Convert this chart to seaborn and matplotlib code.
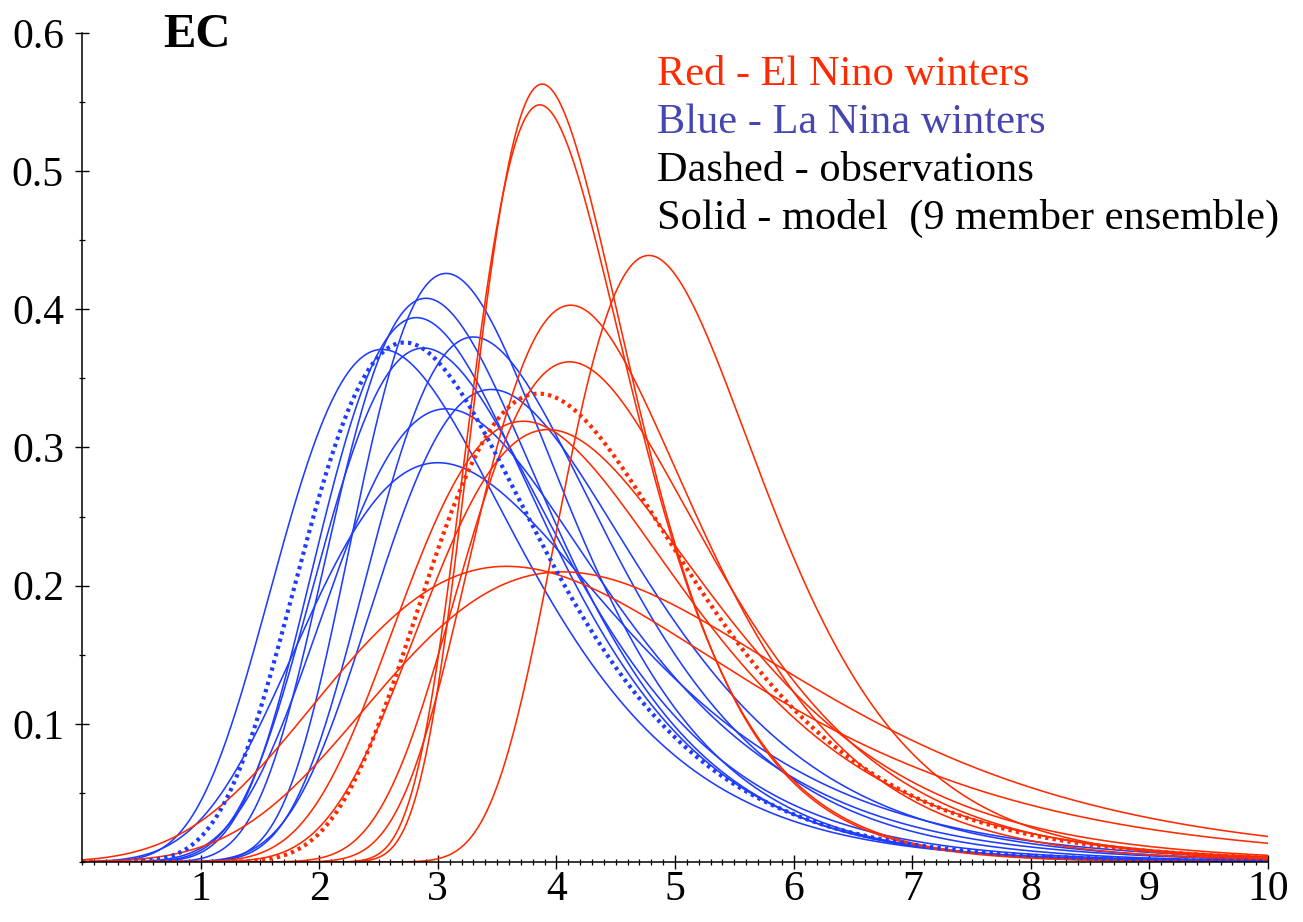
import numpy as np
import pandas as pd
import matplotlib
matplotlib.use("Agg")
import matplotlib.pyplot as plt
from matplotlib.ticker import MultipleLocator, FixedLocator
import seaborn as sns

# ---- data: fitted (Gumbel) curves, given as mode and peak density ----
red_model_modes = [3.88, 3.86, 4.78, 4.12, 4.11, 3.72, 3.93, 3.58, 4.05]
red_model_peaks = [0.563, 0.548, 0.439, 0.403, 0.362, 0.319, 0.313, 0.214, 0.210]
red_obs_mode = [3.85]
red_obs_peak = [0.339]

blue_model_modes = [3.07, 2.90, 2.82, 2.53, 3.30, 2.88, 3.45, 3.07, 3.00]
blue_model_peaks = [0.426, 0.408, 0.394, 0.371, 0.380, 0.372, 0.342, 0.328, 0.289]
blue_obs_mode = [2.72]
blue_obs_peak = [0.376]

x_ticks = [1, 2, 3, 4, 5, 6, 7, 8, 9, 10]
y_ticks = [0.1, 0.2, 0.3, 0.4, 0.5, 0.6]
legend_lines = ["Red - El Nino winters", "Blue - La Nina winters",
                "Dashed - observations", "Solid - model  (9 member ensemble)"]
title = "EC"

RED = "#FF2A00"
BLUE = "#1E3CFF"
BLUE_TXT = "#4646B0"

def gumbel_pdf(x, mode, peak):
    sigma = 1.0 / (np.e * peak)
    z = (x - mode) / sigma
    return np.exp(-z - np.exp(-z)) / sigma

xs = np.linspace(0, 10, 1201)
rows = []
def add(modes, peaks, group, kind):
    for i, (m, p) in enumerate(zip(modes, peaks)):
        rows.append(pd.DataFrame({"x": xs, "y": gumbel_pdf(xs, m, p),
                                  "curve": f"{group}-{kind}-{i}",
                                  "group": group, "kind": kind}))
add(blue_model_modes, blue_model_peaks, "blue", "model")
add(red_model_modes, red_model_peaks, "red", "model")
add(blue_obs_mode, blue_obs_peak, "blue", "obs")
add(red_obs_mode, red_obs_peak, "red", "obs")
df = pd.concat(rows, ignore_index=True)

sns.set_style("ticks")
plt.rcParams["font.family"] = ["Liberation Serif", "DejaVu Serif"]

fig = plt.figure(figsize=(13.03, 9.22), dpi=100)
ax = fig.add_axes([82 / 1303, (922 - 862) / 922, (1268 - 82) / 1303, (862 - 33) / 922])

for name, sub in df.groupby("curve", sort=False):
    grp = sub["group"].iloc[0]
    kind = sub["kind"].iloc[0]
    color = RED if grp == "red" else BLUE
    if kind == "model":
        sns.lineplot(data=sub, x="x", y="y", color=color, lw=1.15, ax=ax,
                     estimator=None, sort=False)
    else:
        sns.lineplot(data=sub, x="x", y="y", color=color, lw=3.0, ax=ax,
                     estimator=None, sort=False, dashes=False,
                     linestyle=(0, (0.8, 1.0)))

ax.set_xlim(0, 10)
ax.set_ylim(0, 0.6)
ax.set_xlabel("")
ax.set_ylabel("")
ax.xaxis.set_major_locator(FixedLocator(x_ticks))
ax.yaxis.set_major_locator(FixedLocator(y_ticks))
ax.set_xticklabels([str(t) for t in x_ticks])
ax.set_yticklabels([f"{t:.1f}" for t in y_ticks])
ax.xaxis.set_minor_locator(MultipleLocator(0.1))
ax.yaxis.set_minor_locator(MultipleLocator(0.05))
ax.tick_params(which="major", direction="inout", length=10, width=1.0,
               labelsize=30, color="black", labelcolor="black")
ax.tick_params(which="minor", direction="inout", length=4.5, width=0.9, color="black")
ax.tick_params(axis="x", which="major", pad=1)
ax.tick_params(axis="y", which="major", pad=8)
sns.despine(ax=ax)
for s in ["left", "bottom"]:
    ax.spines[s].set_linewidth(1.1)
    ax.spines[s].set_color("black")

fig.text(163 / 1303, 1 - 47 / 922, title, fontsize=35, fontweight="bold",
         ha="left", va="baseline", color="black")
colors = [RED, BLUE_TXT, "black", "black"]
baselines = [85, 133, 181, 229]
for txt, c, b in zip(legend_lines, colors, baselines):
    fig.text(657 / 1303, 1 - b / 922, txt, fontsize=30.5, color=c,
             ha="left", va="baseline")

fig.savefig("out.png", dpi=100)
